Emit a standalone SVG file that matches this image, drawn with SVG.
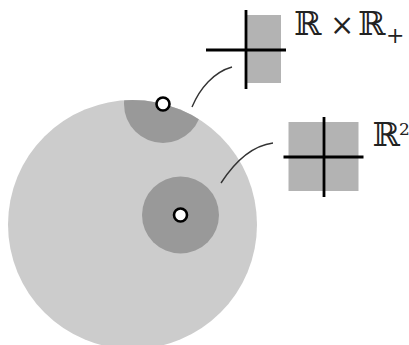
<svg xmlns="http://www.w3.org/2000/svg" width="409" height="345" viewBox="0 0 409 345">
<style>
.lbl{font-family:"DejaVu Serif","Liberation Serif",serif;font-size:33px;fill:#222}
.axis{stroke:#000;stroke-width:2.8;fill:none}
.conn{stroke:#333;stroke-width:1.4;fill:none}
.pt{fill:#fff;stroke:#000;stroke-width:2.6}
.dark{fill:#999}
.box{fill:#b3b3b3}
</style>
<defs>
<clipPath id="disk"><circle cx="132.5" cy="224.5" r="124.5"/></clipPath>
</defs>
<g id="manifold">
<circle cx="132.5" cy="224.5" r="124.5" fill="#cccccc"/>
<circle class="dark" cx="163" cy="104" r="39" clip-path="url(#disk)"/>
<circle class="dark" cx="180.5" cy="215" r="38.5"/>
</g>
<g id="boundary-point">
<circle class="pt" cx="163" cy="104" r="6.5"/>
</g>
<g id="interior-point">
<circle class="pt" cx="180.5" cy="215" r="6.5"/>
</g>
<g id="half-plane">
<rect class="box" x="246" y="15" width="35" height="68"/>
<line class="axis" x1="246" y1="10" x2="246" y2="89"/>
<line class="axis" x1="206" y1="50" x2="286" y2="50"/>
<text class="lbl" y="35"><tspan x="294">ℝ</tspan><tspan x="330" style="font-size:29px">×</tspan><tspan x="358">ℝ</tspan><tspan x="386" style="font-size:22px" dy="8">+</tspan></text>
</g>
<g id="plane">
<rect class="box" x="288.5" y="122" width="70" height="69"/>
<line class="axis" x1="324" y1="117" x2="324" y2="197"/>
<line class="axis" x1="283.5" y1="157" x2="363.5" y2="157"/>
<text class="lbl" y="145.5" x="372.5">ℝ<tspan x="399" dy="-11" style="font-size:17px">2</tspan></text>
</g>
<g id="connectors">
<path class="conn" d="M192,107 C200,88 214,72 232,67"/>
<path class="conn" d="M221,183 C234,163 250,146 273,143"/>
</g>
</svg>
